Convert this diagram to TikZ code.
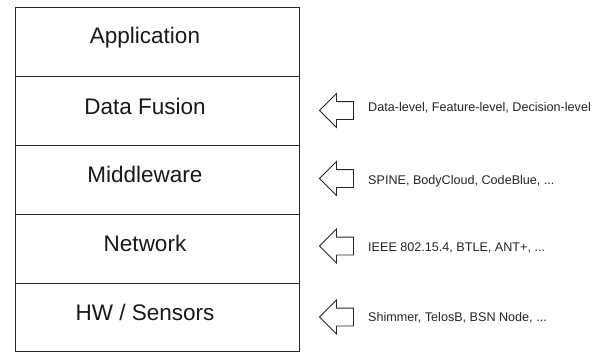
\documentclass[tikz,border=0pt]{standalone}
\usepackage{fontspec}
\setmainfont{Liberation Sans}
\usepackage{tikz}
\usetikzlibrary{positioning,shapes.arrows}

\begin{document}
\begin{tikzpicture}[
        x=1pt, y=-1pt,
        % 层的样式
        layer/.style={draw=black!85, line width=0.8pt, minimum width=284pt, minimum height=68.8pt, inner sep=0pt, outer sep=0pt},
        layertext/.style={font=\fontsize{22.5}{27}\selectfont, text=black!90},
        % 左向箭头与说明文字
        leftarrow/.style={single arrow, draw=black!85, line width=0.8pt, shape border rotate=180, anchor=tip, outer sep=0pt,
            minimum height=34pt, single arrow head extend=8pt, inner xsep=0pt, inner ysep=8.5pt},
        sidetext/.style={font=\fontsize{12.6}{15}\selectfont, text=black!85, anchor=west, inner sep=0pt}
    ]
    \useasboundingbox (0,0) rectangle (601,353);

    % 协议栈各层
    \node[layer] (app) at (157,42.2) {};
    \node[layer, below=0pt of app] (fusion) {};
    \node[layer, below=0pt of fusion] (mid) {};
    \node[layer, below=0pt of mid] (net) {};
    \node[layer, below=0pt of net] (hw) {};

    \node[layertext] (app-t) at ([xshift=-12pt, yshift=5pt]app.center) {Application};
    \node[layertext] (fusion-t) at ([xshift=-12pt, yshift=5pt]fusion.center) {Data Fusion};
    \node[layertext] (mid-t) at ([xshift=-12pt, yshift=5pt]mid.center) {Middleware};
    \node[layertext] (net-t) at ([xshift=-12pt, yshift=5pt]net.center) {Network};
    \node[layertext] (hw-t) at ([xshift=-12pt, yshift=5pt]hw.center) {HW / Sensors};

    % 右侧箭头和例子
    \node[leftarrow] (fusion-a) at (319.5,110.5) {};
    \node[leftarrow] (mid-a) at (319.5,178.5) {};
    \node[leftarrow] (net-a) at (319.5,246) {};
    \node[leftarrow] (hw-a) at (319.5,317) {};

    \node[sidetext] (fusion-s) at (368,108) {Data-level, Feature-level, Decision-level};
    \node[sidetext] (mid-s) at (368,181) {SPINE, BodyCloud, CodeBlue, ...};
    \node[sidetext] (net-s) at (368,248) {IEEE 802.15.4, BTLE, ANT+, ...};
    \node[sidetext] (hw-s) at (368,318) {Shimmer, TelosB, BSN Node, ...};

\end{tikzpicture}
\end{document}
